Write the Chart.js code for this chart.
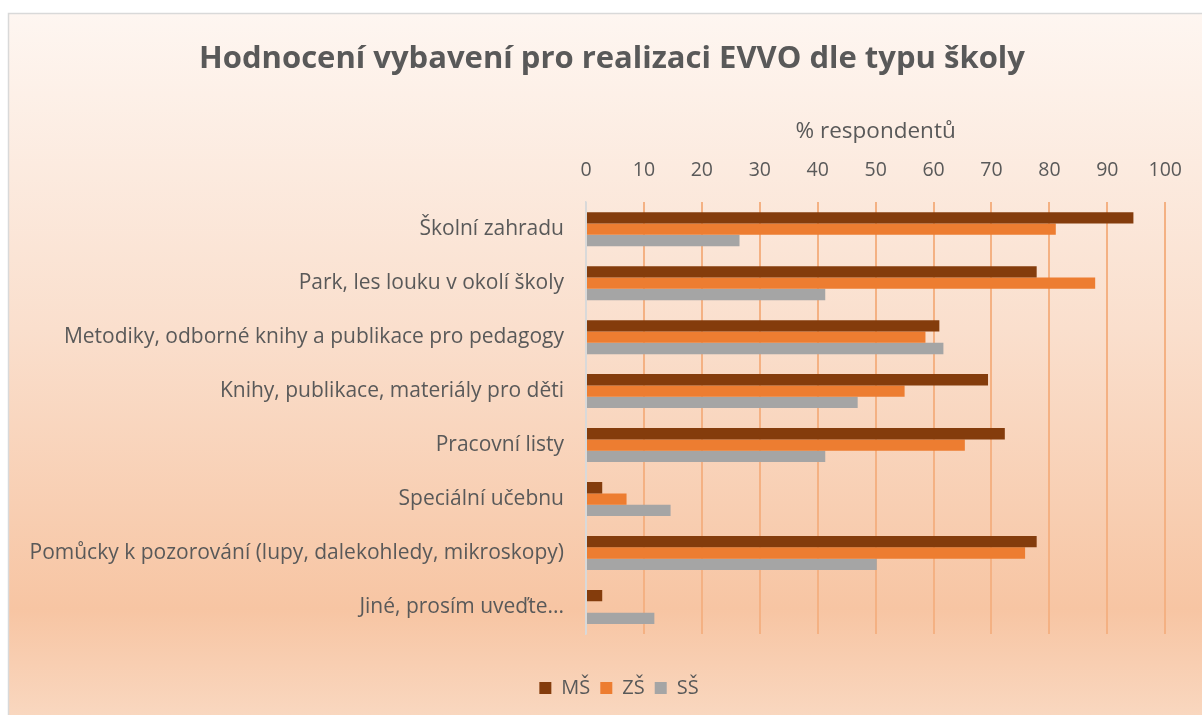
<!DOCTYPE html>
<html>
<head>
<meta charset="utf-8">
<script src="https://cdn.jsdelivr.net/npm/chart.js@4"></script>
<style>
  html, body { margin: 0; padding: 0; background: #fff; }
  #wrap { width: 1202px; height: 715px; position: relative; }
</style>
</head>
<body>
<div id="wrap"><canvas id="evvoChart" width="1202" height="715"></canvas></div>
<script>
// data (% respondentů)
const categories = [
    'Školní zahradu',
    'Park, les louku v okolí školy',
    'Metodiky, odborné knihy a publikace pro pedagogy',
    'Knihy, publikace, materiály pro děti',
    'Pracovní listy',
    'Speciální učebnu',
    'Pomůcky k pozorování (lupy, dalekohledy, mikroskopy)',
    'Jiné, prosím uveďte...'
];
const msValues = [94.5, 77.8, 61.0, 69.4, 72.3, 2.8, 77.8, 2.8];
const zsValues = [81.1, 87.9, 58.6, 55.0, 65.4, 7.0, 75.8, 0];
const ssValues = [26.5, 41.3, 61.7, 46.9, 41.3, 14.6, 50.2, 11.8];
const xTicks = [0, 10, 20, 30, 40, 50, 60, 70, 80, 90, 100];

const FONT = '"Open Sans", Lato, sans-serif';
const TEXT = '#595959';

// gradient card + thin border behind the chart
const background = {
    id: 'background',
    beforeDraw(chart) {
        const c = chart.ctx;
        const g = c.createLinearGradient(0, 13, 0, 715);
        g.addColorStop(0, '#FEF6F1');
        g.addColorStop(0.45, '#FADFCD');
        g.addColorStop(0.85, '#F7C5A3');
        g.addColorStop(1, '#F9D7BF');
        c.save();
        c.fillStyle = g;
        c.fillRect(8, 13, 1202 - 8, 715 - 13);
        c.strokeStyle = '#D9D9D9';
        c.lineWidth = 1.5;
        c.beginPath();
        c.moveTo(8.5, 716);
        c.lineTo(8.5, 13.5);
        c.lineTo(1203, 13.5);
        c.stroke();
        c.restore();
    }
};

// title and legend sit a bit right of the canvas centre in the original
const nudge = {
    id: 'nudge',
    afterLayout(chart) {
        chart.titleBlock.left += 24;
        chart.titleBlock.right += 24;
        chart.legend.left += 31;
        chart.legend.right += 31;
    }
};

const ctx = document.getElementById('evvoChart');
new Chart(ctx, {
    type: 'bar',
    data: {
        labels: categories,
        datasets: [
            { label: 'MŠ', data: msValues, backgroundColor: '#843C0C' },
            { label: 'ZŠ', data: zsValues, backgroundColor: '#ED7D31' },
            { label: 'SŠ', data: ssValues, backgroundColor: '#A5A5A5' }
        ]
    },
    options: {
        indexAxis: 'y',
        responsive: false,
        animation: false,
        categoryPercentage: 0.63,
        barPercentage: 1,
        layout: { padding: { left: 8, right: 34, top: 0, bottom: 7 } },
        plugins: {
            title: {
                display: true,
                text: 'Hodnocení vybavení pro realizaci EVVO dle typu školy',
                color: TEXT,
                font: { family: FONT, size: 31, weight: 'bold' },
                padding: { top: 41, bottom: 20 }
            },
            legend: {
                position: 'bottom',
                labels: {
                    color: TEXT,
                    font: { family: FONT, size: 20 },
                    boxWidth: 12,
                    boxHeight: 12,
                    padding: 10
                }
            },
            tooltip: { enabled: false }
        },
        scales: {
            x: {
                position: 'top',
                min: 0,
                max: 100,
                afterBuildTicks: s => { s.ticks = xTicks.map(v => ({ value: v })); },
                afterFit: s => { s.height = 104; },
                title: {
                    display: true,
                    text: '% respondentů',
                    color: TEXT,
                    font: { family: FONT, size: 22.5 },
                    padding: { top: 20, bottom: 0 }
                },
                ticks: {
                    color: TEXT,
                    font: { family: FONT, size: 19.5 },
                    padding: 20
                },
                grid: {
                    drawTicks: false,
                    color: c => c.tick && c.tick.value === 0 ? '#D9D9D9' : '#F4B183',
                    lineWidth: 2
                },
                border: { display: false }
            },
            x2: {
                type: 'linear',
                position: 'bottom',
                display: true,
                afterFit: s => { s.height = 34; },
                ticks: { display: false },
                grid: { display: false },
                border: { display: false }
            },
            y: {
                afterFit: s => { s.width = 586 - 8; },
                ticks: {
                    color: TEXT,
                    font: { family: FONT, size: 21 },
                    padding: 22
                },
                grid: { display: false, drawTicks: false },
                border: { color: '#D9D9D9', width: 1.5 }
            }
        }
    },
    plugins: [background, nudge]
});
</script>
</body>
</html>
